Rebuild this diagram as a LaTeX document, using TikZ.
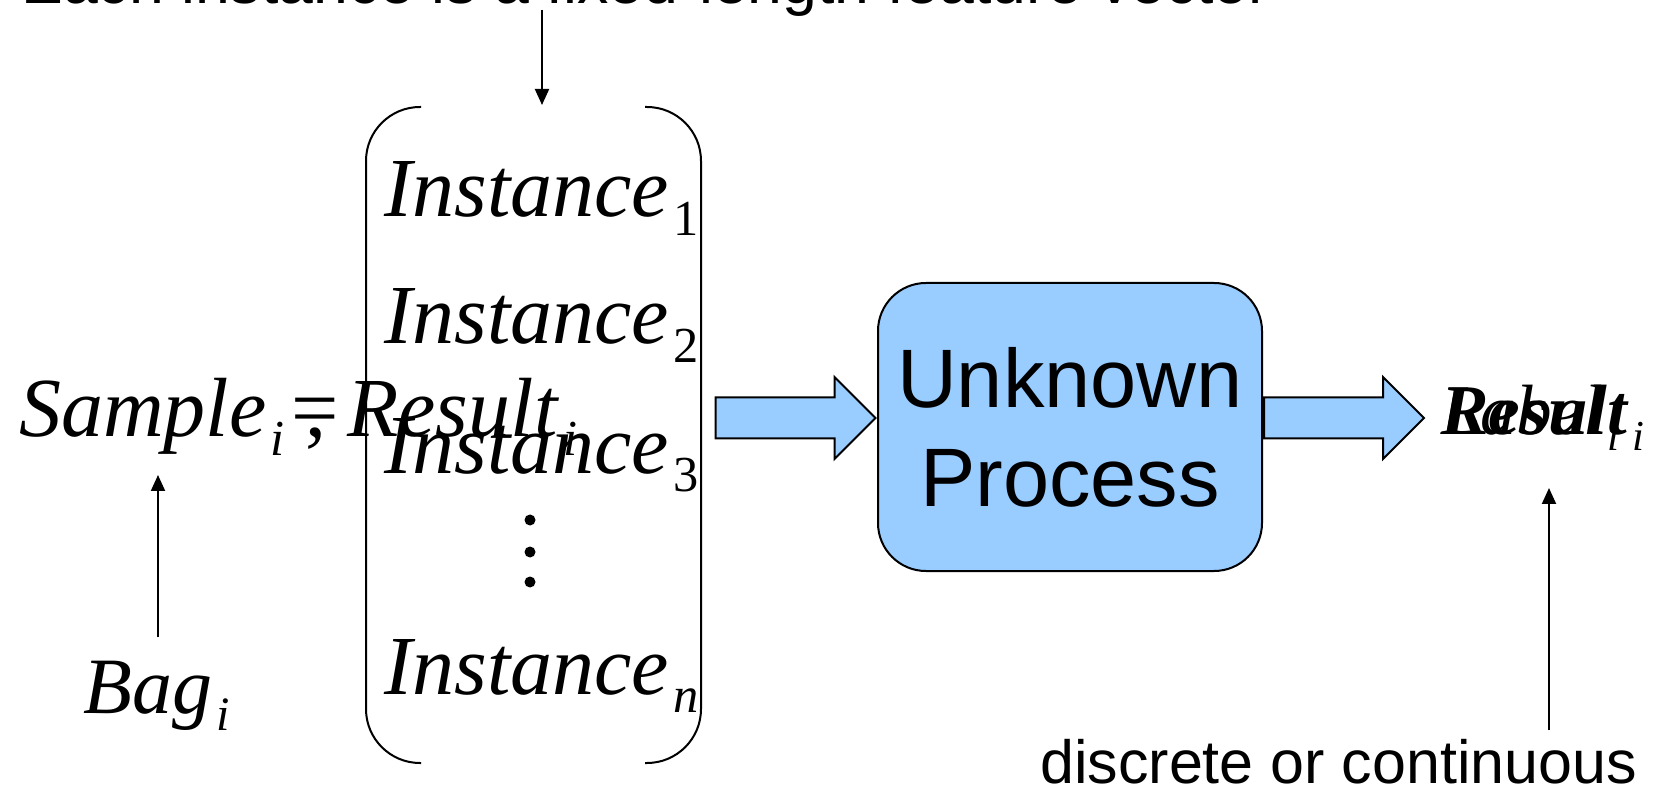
\documentclass[tikz,border=0pt]{standalone}
\usepackage{fontspec}
\setmainfont{Liberation Serif}
\newfontfamily\arialfont{Liberation Sans}
\usetikzlibrary{arrows.meta,shapes.arrows,positioning}
\definecolor{CbA}{RGB}{153,204,255}
\tikzset{
txtnode/.style={inner sep=0pt, anchor=base west},
ivar/.style={txtnode, font=\fontsize{47.8}{50}\selectfont},
bvar/.style={txtnode, font=\fontsize{45.5}{50}\selectfont},
rvar/.style={txtnode, font=\fontsize{40.5}{45}\selectfont},
stxt/.style={txtnode, font=\arialfont\fontsize{35.3}{40}\selectfont},
procbox/.style={draw, line width=.4mm, fill=CbA, rounded corners=9.6mm,
  minimum width=76.8mm, minimum height=57.6mm, align=center,
  font=\arialfont\fontsize{47.2}{56.3}\selectfont},
blockarr/.style={single arrow, draw, line width=.4mm, fill=CbA,
  inner xsep=0pt, inner ysep=3.9mm,
  minimum height=32mm, single arrow head extend=4.1mm,
  single arrow head indent=0pt},
thinarr/.style={-{Triangle[length=3.2mm,width=2.8mm]}, line width=.4mm},
paren/.style={line width=.4mm, rounded corners=10.8mm},
}
\newcommand\mvar[2]{\textit{#1}\kern.05em\raisebox{-.22em}{\scalebox{.6}{#2}}}

\begin{document}
\begin{tikzpicture}[x=.2mm,y=-.2mm]
\useasboundingbox (0,0) rectangle (1673,788);

%% feature vector note
\node[stxt, font=\arialfont\fontsize{35.6}{40}\selectfont] (feat) at (21,4)
  {Each instance is a fixed-length feature vector};
\coordinate (vectip) at (542,105);
\draw[thinarr, shorten <=1.2mm] (feat.base -| vectip) -- (vectip);

%% bag of instances
\draw[paren] (421,107) -- (366,107) -- (366,763) -- (421,763);
\draw[paren] (645,107) -- (701,107) -- (701,763) -- (645,763);

\node[ivar] (inst1) at (384,217) {\mvar{Instance}{1}};
\node[ivar] (inst2) at (384,344) {\mvar{Instance}{2}};
\node[ivar] (inst3) at (384,473) {\mvar{Instance}{3}};
\node[ivar] (instn) at (384,694) {\mvar{Instance}{\textit{n}}};

\fill (530,520) circle (1.1mm);
\fill (530,552) circle (1.1mm);
\fill (530,582) circle (1.1mm);

%% sample
\node[ivar] (sample) at (19,437) {\mvar{Sample}{\textit{i}}\kern.08em=};
\node[ivar] (result) at (305,437) {, \mvar{Result}{\textit{i}}};

\node[bvar] (bag) at (83,713) {\mvar{Bag}{\textit{i}}};
\coordinate (bagtip) at (158,475);
\draw[thinarr, shorten <=4.6mm] (bagtip |- bag.north) -- (bagtip);

%% process
\node[procbox] (proc) at (1070,427) {Unknown\\Process};

\node[blockarr, left=0pt of proc, yshift=1.8mm] (inarr) {};
\node[blockarr, right=0pt of proc, yshift=1.8mm] (outarr) {};

%% output
\node[rvar] (resultb) at (1441,435) {\textbf{\textit{Result}}\kern.05em\raisebox{-.22em}{\scalebox{.6}{\textit{i}}}};
\node[rvar] (label) at (1441,435) {\mvar{Label}{\textit{i}}};

\node[stxt, font=\arialfont\fontsize{34.7}{40}\selectfont] (disc) at (1040,783)
  {discrete or continuous};
\coordinate (labtip) at (1549,488);
\draw[thinarr, shorten <=1.6mm] (labtip |- disc.north) -- (labtip);

\end{tikzpicture}
\end{document}
